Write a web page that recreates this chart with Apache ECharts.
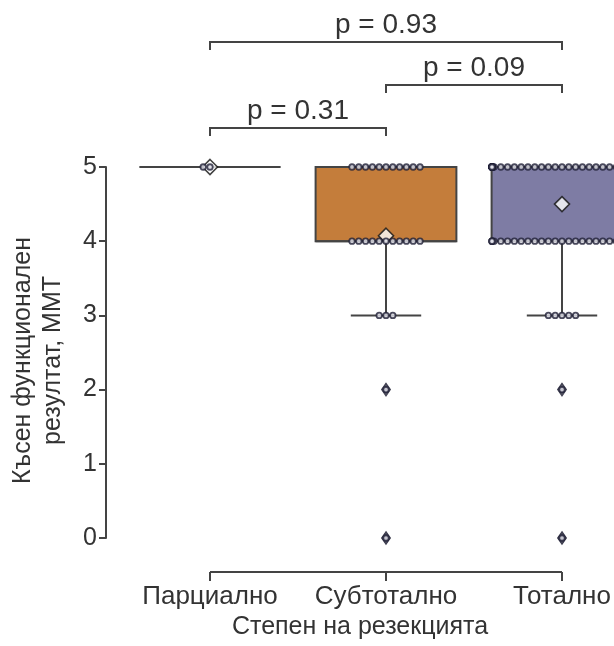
<!DOCTYPE html>
<html>
<head>
<meta charset="utf-8">
<script src="https://cdn.jsdelivr.net/npm/echarts@6/dist/echarts.min.js"></script>
<style>
  html, body { margin: 0; padding: 0; background: #ffffff; }
  #chart { width: 614px; height: 646px; }
</style>
</head>
<body>
<div id="chart"></div>
<script>
// Resection groups
const categories = ['Парциално', 'Субтотално', 'Тотално'];
// MMT score levels and the y-axis ticks
const scoreLevels = [0, 1, 2, 3, 4, 5];
const yTicks = [0, 1, 2, 3, 4, 5];

// Number of patients at each score level (0..5) per group
const countsPartial  = [0, 0, 0, 0, 0, 2];
const countsSubtotal = [1, 0, 1, 3, 11, 11];
const countsTotal    = [1, 0, 1, 5, 26, 55];

// Box summaries: lower whisker, Q1, median, Q3, upper whisker
const boxPartial  = [5, 5, 5, 5, 5];
const boxSubtotal = [3, 4, 4, 5, 5];
const boxTotal    = [3, 4, 5, 5, 5];

// Values beyond the whiskers
const outliersPartial  = [];
const outliersSubtotal = [2, 0];
const outliersTotal    = [2, 0];

// Pairwise comparisons
const pPairs  = [[0, 1], [1, 2], [0, 2]];
const pLabels = ['p = 0.31', 'p = 0.09', 'p = 0.93'];

const FONT = '"Liberation Sans", Arial, Helvetica, sans-serif';
const TEXT = '#333333';
const LINE = '#444444';
const boxColors = ['#8fa9c9', '#c47d3b', '#7e7ca4'];

const allCounts = [countsPartial, countsSubtotal, countsTotal];
const allBoxes = [boxPartial, boxSubtotal, boxTotal];
const allOutliers = [outliersPartial, outliersSubtotal, outliersTotal];

// Beeswarm layout for tied values: centre, then alternate left/right,
// kept inside 80% of the category band.
const DOT_STEP = 6.8;
const HALF_BAND = 70;
function swarmPoints(counts, g) {
  const pts = [];
  counts.forEach((n, i) => {
    for (let k = 0; k < n; k++) {
      const slot = k === 0 ? 0 : (k % 2 ? -(k + 1) / 2 : k / 2);
      const dx = Math.max(-HALF_BAND, Math.min(HALF_BAND, slot * DOT_STEP));
      pts.push({ value: [g, scoreLevels[i]], symbolOffset: [dx, 0] });
    }
  });
  return pts;
}

function groupMean(counts) {
  let s = 0, n = 0;
  counts.forEach((c, i) => { s += c * scoreLevels[i]; n += c; });
  return s / n;
}

const swarmData = [];
allCounts.forEach((c, g) => swarmData.push(...swarmPoints(c, g)));
const meanData = allCounts.map((c, g) => [g, groupMean(c)]);
const outlierData = [];
allOutliers.forEach((vals, g) => vals.forEach(v => outlierData.push([g, v])));
const boxData = allBoxes.map((b, g) => [g, ...b]);
const bracketData = pPairs.map((p, i) => [p[0], p[1], i]);

const chart = echarts.init(document.getElementById('chart'), null, { renderer: 'canvas' });

const option = {
  animation: false,
  backgroundColor: '#ffffff',
  grid: { left: 122, width: 528, top: 167, bottom: 108, containLabel: false, outerBoundsMode: 'none' },
  xAxis: {
    type: 'category',
    data: categories,
    boundaryGap: true,
    offset: 34,
    axisLine: { show: false },
    axisTick: { show: false },
    axisLabel: { color: TEXT, fontSize: 26, fontFamily: FONT, margin: 12, interval: 0 },
    splitLine: { show: false },
    name: 'Степен на резекцията',
    nameLocation: 'middle',
    nameGap: 40,
    nameTextStyle: { color: TEXT, fontSize: 25, fontFamily: FONT, padding: [0, 52, 0, 0] }
  },
  yAxis: {
    type: 'value',
    min: yTicks[0],
    max: yTicks[yTicks.length - 1],
    interval: 1,
    offset: 16,
    axisLine: { show: true, lineStyle: { color: LINE, width: 2 } },
    axisTick: { show: true, length: 7, lineStyle: { color: LINE, width: 2 } },
    axisLabel: { color: TEXT, fontSize: 25, fontFamily: FONT, margin: 9 },
    splitLine: { show: false },
    name: 'Късен функционален\nрезултат, ММТ',
    nameLocation: 'middle',
    nameGap: 38,
    nameTextStyle: { color: TEXT, fontSize: 25, fontFamily: FONT, lineHeight: 30, padding: [0, 16, 0, 0] }
  },
  series: [
    {
      name: 'box',
      type: 'custom',
      data: boxData,
      encode: { x: 0, y: [1, 2, 3, 4, 5] },
      z: 2,
      renderItem(params, api) {
        const x = api.value(0);
        const band = api.size([1, 0])[0];
        const half = band * 0.4;
        const cap = band * 0.2;
        const lo = api.coord([x, api.value(1)]);
        const q1 = api.coord([x, api.value(2)]);
        const md = api.coord([x, api.value(3)]);
        const q3 = api.coord([x, api.value(4)]);
        const hi = api.coord([x, api.value(5)]);
        const cx = lo[0];
        const st = { stroke: LINE, lineWidth: 2, fill: null };
        return {
          type: 'group',
          children: [
            { type: 'line', shape: { x1: cx, y1: q1[1], x2: cx, y2: lo[1] }, style: st },
            { type: 'line', shape: { x1: cx - cap, y1: lo[1], x2: cx + cap, y2: lo[1] }, style: st },
            { type: 'line', shape: { x1: cx, y1: q3[1], x2: cx, y2: hi[1] }, style: st },
            { type: 'line', shape: { x1: cx - cap, y1: hi[1], x2: cx + cap, y2: hi[1] }, style: st },
            { type: 'rect', shape: { x: cx - half, y: q3[1], width: 2 * half, height: q1[1] - q3[1] },
              style: { fill: boxColors[params.dataIndex], stroke: LINE, lineWidth: 2 } },
            { type: 'line', shape: { x1: cx - half, y1: md[1], x2: cx + half, y2: md[1] }, style: st }
          ]
        };
      }
    },
    {
      name: 'outliers',
      type: 'scatter',
      data: outlierData,
      symbol: 'diamond',
      symbolSize: [9, 13],
      clip: false,
      z: 3,
      itemStyle: { color: '#26263a', borderColor: '#26263a', borderWidth: 1 }
    },
    {
      name: 'mean',
      type: 'scatter',
      data: meanData,
      symbol: 'diamond',
      symbolSize: [15, 15],
      clip: false,
      z: 4,
      itemStyle: { color: '#ffffff', borderColor: '#111111', borderWidth: 1.6 }
    },
    {
      name: 'patients',
      type: 'scatter',
      data: swarmData,
      symbol: 'circle',
      symbolSize: 5.5,
      clip: false,
      z: 5,
      itemStyle: { color: '#e4e4ec', borderColor: '#1f1f36', borderWidth: 1.8 }
    },
    {
      name: 'comparisons',
      type: 'custom',
      data: bracketData,
      encode: { x: [0, 1] },
      clip: false,
      z: 6,
      renderItem(params, api) {
        const a = api.coord([api.value(0), yTicks[yTicks.length - 1]]);
        const b = api.coord([api.value(1), yTicks[yTicks.length - 1]]);
        const y = a[1] - (39 + api.value(2) * 43);
        const drop = 8;
        return {
          type: 'group',
          children: [
            { type: 'polyline',
              shape: { points: [[a[0], y + drop], [a[0], y], [b[0], y], [b[0], y + drop]] },
              style: { stroke: LINE, lineWidth: 2, fill: null } },
            { type: 'text',
              style: { text: pLabels[params.dataIndex], x: (a[0] + b[0]) / 2, y: y - 17,
                       align: 'center', verticalAlign: 'middle',
                       fontSize: 28, fontFamily: FONT, fill: TEXT } }
          ]
        };
      }
    }
  ]
};

chart.setOption(option);

// Trimmed x-axis baseline from the first to the last category, with ticks
const yBase = chart.convertToPixel({ yAxisIndex: 0 }, yTicks[0]) + 34;
const tickXs = categories.map(c => chart.convertToPixel({ xAxisIndex: 0 }, c));
const axisGraphics = [{
  type: 'line',
  shape: { x1: tickXs[0], y1: yBase, x2: tickXs[tickXs.length - 1], y2: yBase },
  style: { stroke: LINE, lineWidth: 2 },
  z: 10
}];
tickXs.forEach(x => axisGraphics.push({
  type: 'line',
  shape: { x1: x, y1: yBase, x2: x, y2: yBase + 9 },
  style: { stroke: LINE, lineWidth: 2 },
  z: 10
}));
chart.setOption({ graphic: axisGraphics });
</script>
</body>
</html>
